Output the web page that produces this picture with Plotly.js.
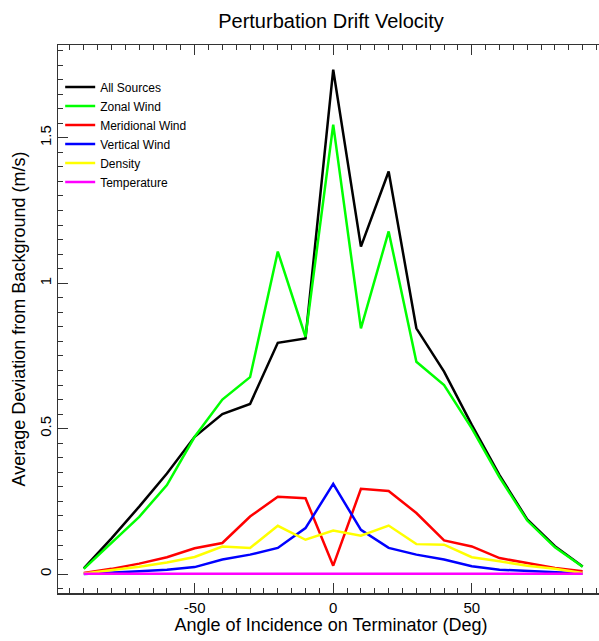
<!DOCTYPE html>
<html>
<head>
<meta charset="utf-8">
<script src="https://cdn.plot.ly/plotly-3.0.1.min.js"></script>
<style>
html, body { margin: 0; padding: 0; overflow: hidden; background: #fff; }
#chart { width: 610px; height: 641px; }
</style>
</head>
<body>
<div id="chart"></div>
<script>
// Angle of incidence (deg)
const angles = [-90, -80, -70, -60, -50, -40, -30, -20, -10, 0, 10, 20, 30, 40, 50, 60, 70, 80, 90];

// Average deviation from background (m/s)
const allSources     = [0.020, 0.123, 0.232, 0.346, 0.472, 0.550, 0.585, 0.795, 0.810, 1.734, 1.126, 1.384, 0.845, 0.696, 0.513, 0.340, 0.188, 0.096, 0.026];
const zonalWind      = [0.018, 0.106, 0.197, 0.306, 0.472, 0.600, 0.677, 1.109, 0.816, 1.545, 0.845, 1.178, 0.730, 0.650, 0.501, 0.333, 0.184, 0.092, 0.025];
const meridionalWind = [0.004, 0.018, 0.036, 0.058, 0.089, 0.107, 0.198, 0.266, 0.261, 0.029, 0.293, 0.286, 0.210, 0.116, 0.095, 0.055, 0.038, 0.021, 0.010];
const verticalWind   = [0.000, 0.004, 0.010, 0.015, 0.024, 0.050, 0.067, 0.090, 0.158, 0.310, 0.152, 0.090, 0.067, 0.050, 0.027, 0.015, 0.010, 0.006, 0.002];
const density        = [0.002, 0.013, 0.025, 0.040, 0.059, 0.095, 0.090, 0.166, 0.118, 0.150, 0.132, 0.167, 0.103, 0.101, 0.058, 0.044, 0.029, 0.018, 0.004];
const temperature    = [0.001, 0.001, 0.001, 0.001, 0.001, 0.001, 0.001, 0.001, 0.001, 0.001, 0.001, 0.001, 0.001, 0.001, 0.001, 0.001, 0.001, 0.001, 0.001];

const seriesNames  = ["All Sources", "Zonal Wind", "Meridional Wind", "Vertical Wind", "Density", "Temperature"];
const seriesValues = [allSources, zonalWind, meridionalWind, verticalWind, density, temperature];
const seriesColors = ["#000000", "#00ff00", "#ff0000", "#0000ff", "#ffff00", "#ff00ff"];

const FONT = '"Liberation Sans", Arial, Helvetica, sans-serif';

const traces = seriesNames.map((name, i) => ({
  type: 'scatter',
  mode: 'lines',
  name: name,
  x: angles,
  y: seriesValues[i],
  line: { color: seriesColors[i], width: 2.5 },
  hoverinfo: 'skip'
}));

const axisCommon = {
  showgrid: false,
  zeroline: false,
  showline: true,
  linecolor: '#333333',
  linewidth: 1.5,
  ticks: 'inside',
  tickcolor: '#333333',
  tickwidth: 1,
  ticklen: 10,
  tickfont: { family: FONT, size: 15, color: '#000' }
};

const layout = {
  width: 610,
  height: 641,
  margin: { l: 58, r: 6, t: 45, b: 48 },
  paper_bgcolor: '#ffffff',
  plot_bgcolor: '#ffffff',
  showlegend: true,
  title: {
    text: 'Perturbation Drift Velocity',
    font: { family: FONT, size: 20, color: '#000' },
    x: 0.5, xref: 'paper', xanchor: 'center',
    y: 0.968, yref: 'container', yanchor: 'middle'
  },
  xaxis: Object.assign({}, axisCommon, {
    mirror: 'ticks',
    range: [-99.3, 97.7],
    tickmode: 'array',
    tickvals: [-50, 0, 50],
    ticktext: ['-50', '0', '50'],
    minor: { dtick: 5, tick0: 0, ticks: 'inside', ticklen: 5, tickcolor: '#333333', tickwidth: 1 },
    title: { text: 'Angle of Incidence on Terminator (Deg)', font: { family: FONT, size: 18, color: '#000' }, standoff: 4 }
  }),
  yaxis: Object.assign({}, axisCommon, {
    mirror: false,
    range: [-0.065, 1.819],
    tickmode: 'array',
    tickvals: [0, 0.5, 1, 1.5],
    ticktext: ['0', '0.5', '1', '1.5'],
    tickangle: -90,
    minor: { dtick: 0.05, tick0: 0, ticks: 'inside', ticklen: 5, tickcolor: '#333333', tickwidth: 1 },
    title: { text: 'Average Deviation from Background (m/s)', font: { family: FONT, size: 18, color: '#000' }, standoff: 6 }
  }),
  legend: {
    x: 0.004, xanchor: 'left',
    y: 0.9496, yanchor: 'top',
    bgcolor: 'rgba(0,0,0,0)',
    borderwidth: 0,
    font: { family: FONT, size: 12, color: '#000' },
    itemwidth: 30,
    traceorder: 'normal'
  }
};

Plotly.newPlot('chart', traces, layout, { displayModeBar: false, staticPlot: true });
</script>
</body>
</html>
